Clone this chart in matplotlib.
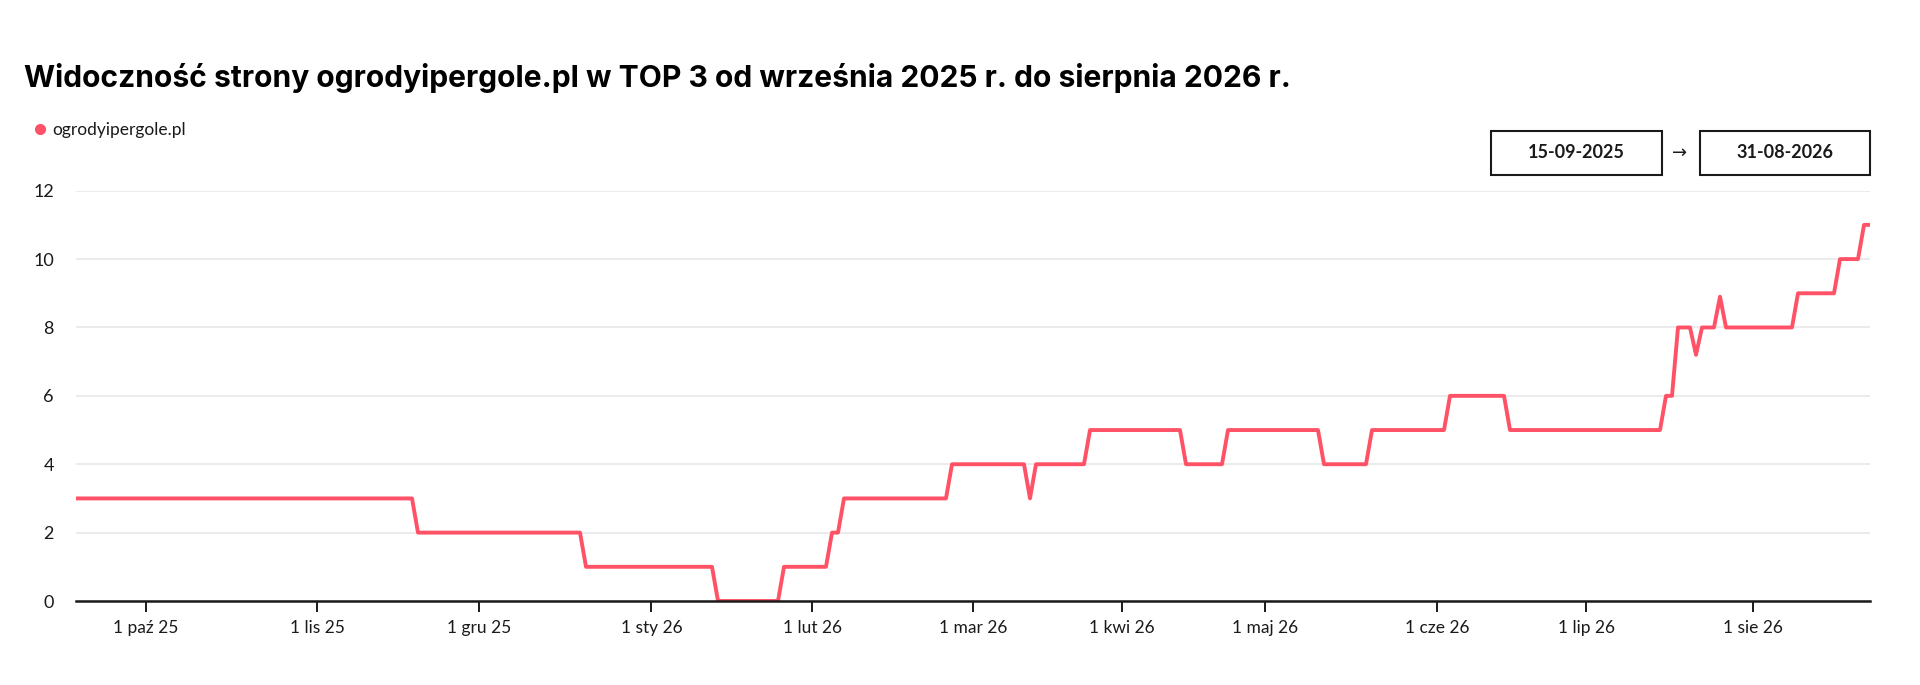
import numpy as np
import matplotlib
matplotlib.use('Agg')
import matplotlib.pyplot as plt
from matplotlib.lines import Line2D
from matplotlib.patches import Rectangle

plt.rcParams['font.family'] = ['Lato', 'DejaVu Sans']

# series: visibility levels and how many samples each level lasts
levels = [3, 2, 1, 0, 1, 2, 3, 4, 3, 4, 5, 4, 5, 4, 5, 6, 5, 6, 8, 7.2, 8, 8.9, 8, 9, 10, 11]
counts = [57, 28, 22, 11, 8, 2, 18, 13, 1, 9, 16, 7, 16, 8, 13, 10, 26, 2, 3, 1, 3, 1, 12, 7, 4, 2]

# x ticks (sample index where each month starts) and their labels
tick_pos = [11.6, 40.2, 67.2, 95.9, 122.7, 149.5, 174.3, 198.2, 226.8, 251.7, 279.5]
tick_labels = ['1 paź 25', '1 lis 25', '1 gru 25', '1 sty 26', '1 lut 26', '1 mar 26',
               '1 kwi 26', '1 maj 26', '1 cze 26', '1 lip 26', '1 sie 26']
y_ticks = [0, 2, 4, 6, 8, 10, 12]

site = 'ogrodyipergole.pl'
title = 'Widoczność strony ogrodyipergole.pl w TOP 3 od września 2025 r. do sierpnia 2026 r.'
date_from = '15-09-2025'
date_to = '31-08-2026'

red = '#FF5266'
dark = '#1a1a1a'

values = np.repeat(levels, counts)
idx = np.arange(len(values))

W, H = 1920, 685
fig = plt.figure(figsize=(W / 100, H / 100), dpi=100)
ax = fig.add_axes([76 / W, 1 - 601 / H, (1870 - 76) / W, (601 - 190.7) / H])

ax.plot(idx, values, color=red, lw=2.8, solid_joinstyle='round', solid_capstyle='round', zorder=3)

ax.set_xlim(0, len(values) - 1)
ax.set_ylim(0, 12)
ax.set_yticks(y_ticks)
ax.set_xticks(tick_pos)
ax.set_xticklabels(tick_labels)
ax.yaxis.grid(True, color='#e9e9e9', lw=1.3)
ax.set_axisbelow(True)
for s in ['left', 'top', 'right']:
    ax.spines[s].set_visible(False)
ax.spines['bottom'].set_color(dark)
ax.spines['bottom'].set_linewidth(1.8)
ax.spines['bottom'].set_zorder(4)
ax.tick_params(axis='y', length=0, pad=16, labelsize=13, labelcolor=dark)
ax.tick_params(axis='x', length=8, width=1.4, color=dark, pad=6, labelsize=12.5, labelcolor=dark)

# title
fig.text(24 / W, 1 - 78 / H, title, fontsize=21.6, fontweight='bold', color='black', va='center', ha='left',
         family=['Inter', 'DejaVu Sans'])

# legend
proxy = Line2D([], [], color=red, marker='o', linestyle='', markersize=7)
fig.legend(handles=[proxy], labels=[site], loc='center left', bbox_to_anchor=(33 / W, 1 - 130 / H),
           frameon=False, handletextpad=0.3, handlelength=0.8, borderpad=0, borderaxespad=0,
           fontsize=12.5, labelcolor=dark)

# date range boxes
for x0, x1, txt in [(1491, 1661.5, date_from), (1699.5, 1870, date_to)]:
    fig.patches.append(Rectangle((x0 / W, 1 - 175 / H), (x1 - x0) / W, 44 / H, transform=fig.transFigure,
                                 fill=False, edgecolor=dark, lw=1.5))
    fig.text((x0 + x1) / 2 / W, 1 - 153 / H, txt, fontsize=13, fontweight='bold', color=dark,
             ha='center', va='center')
fig.text(1680 / W, 1 - 153 / H, '→', fontsize=13, color=dark, ha='center', va='center',
         family=['DejaVu Sans'])

fig.savefig('out.png', dpi=100, facecolor='white')
